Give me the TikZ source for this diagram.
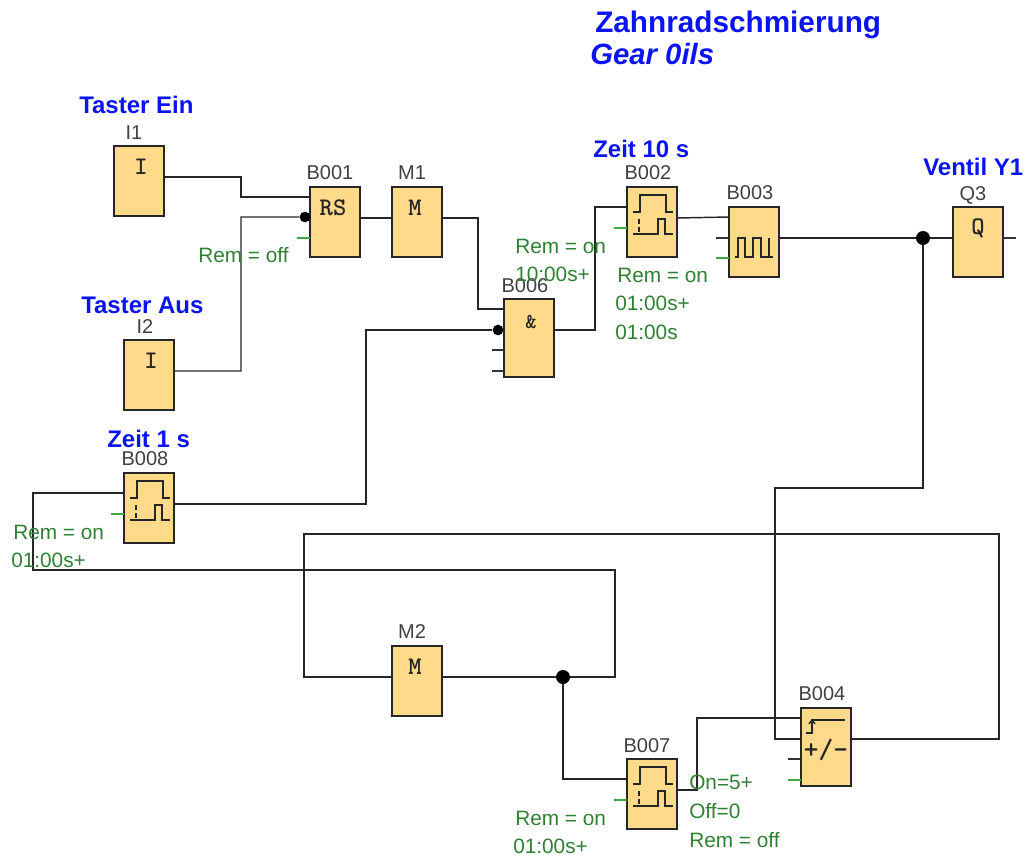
\documentclass[tikz,border=0pt]{standalone}
\usepackage{fontspec}
\setmainfont{Liberation Sans}
\definecolor{blockFill}{HTML}{FFDA8B}
\definecolor{remGreen}{HTML}{2F8032}
\definecolor{pinGreen}{HTML}{3FA648}
\definecolor{nameBlue}{HTML}{0A14F0}
\tikzset{
  block/.style={draw=black!85,fill=blockFill,line width=1.1pt,inner sep=0pt,outer sep=0pt,anchor=north west,minimum width=37.5pt},
  wire/.style={line width=1.1pt,black!85},
  pinstub/.style={line width=1pt,black!80},
  greenstub/.style={line width=1pt,pinGreen},
  icon/.style={line width=1.1pt,black!85},
  glyph/.style={font=\fontsize{19}{19}\ttfamily\bfseries,text=black!85,inner sep=0pt},
  blockname/.style={font=\fontsize{15}{15}\selectfont,text=black!75,anchor=base,inner sep=0pt},
  caption/.style={font=\fontsize{18}{18}\selectfont\bfseries,text=nameBlue,anchor=base west,inner sep=0pt},
  remtext/.style={font=\fontsize{15.6}{15.6}\selectfont,text=remGreen,anchor=base west,inner sep=0pt},
  bigdot/.style={circle,fill=black,inner sep=0pt,minimum size=10.5pt},
  smalldot/.style={circle,fill=black,inner sep=0pt,minimum size=8pt}
}
% block at its top left corner, with the pin rows as coordinates
\newcommand{\funcBlock}[4]{
  \node[block,minimum height=#4*0.75pt] (#1) at (#2,#3) {};
  \foreach \p in {10,20,31,41,51,72}
    \coordinate (#1-\p) at ([shift={(0,\p)}]#1.north west);
  \coordinate (#1-o) at ([shift={(0,31)}]#1.north east);
}
\newcommand{\timerIcon}[1]{
  \begin{scope}[shift={(#1.north west)}]
    \draw[icon] (6,25) -- (13,25) -- (13,8) -- (39,8) -- (39,25) -- (46,25);
    \draw[icon] (6,47) -- (31,47) -- (31,32) -- (38,32) -- (38,47) -- (46,47);
    \draw[icon,dash pattern=on 4pt off 2pt] (12,32) -- (12,47);
  \end{scope}
}

\begin{document}
\begin{tikzpicture}[x=0.75pt,y=-0.75pt]
  \useasboundingbox (0,0) rectangle (1026,858);

  \funcBlock{i1}{114}{146}{70}
  \funcBlock{i2}{124}{340}{70}
  \funcBlock{b001}{310}{187}{70}
  \funcBlock{m1}{392}{187}{70}
  \funcBlock{b006}{504}{299}{78}
  \funcBlock{b002}{627}{187}{70}
  \funcBlock{b003}{729}{207}{70}
  \funcBlock{q3}{953}{207}{70}
  \funcBlock{b008}{124}{473}{70}
  \funcBlock{m2}{392}{646}{70}
  \funcBlock{b007}{627}{759}{70}
  \funcBlock{b004}{801}{708}{78}

  \node[smalldot] (dotrs) at (305,217) {};
  \node[smalldot] (dotand) at (498,330) {};
  \node[bigdot] (dotq) at (923,238) {};
  \node[bigdot] (dotm) at (563,677) {};

  % wires
  \draw[wire] (i1-o) -| (241,197) -- (b001-10);
  \draw[wire] (i2-o) -| (241,217) -- (dotrs) -- (b001-31);
  \draw[wire] (b001-o) -- (m1-31);
  \draw[wire] (m1-o) -| (478,309) -- (b006-10);
  \draw[wire] (b008-o) -| (366,330) -- (dotand) -- (b006-31);
  \draw[wire] (b006-o) -| (595,207) -- (b002-20);
  \draw[wire] (b002-o) -- (b003-10);
  \draw[wire] (b003-o) -- (dotq) -- (q3-31);
  \draw[wire] (dotq) |- (775,488) |- (b004-31);
  \draw[wire] (b007-o) -| (697,718) -- (b004-10);
  \draw[wire] (b004-o) -| (999,534) -| (304,677) -- (m2-31);
  \draw[wire] (m2-o) -- (dotm) -| (615,570) -| (33,493) -- (b008-20);
  \draw[wire] (dotm) |- (b007-20);

  % open pins
  \draw[pinstub] (q3-o) -- ++(13,0);
  \draw[pinstub] (b006-51) -- ++(-12,0);
  \draw[pinstub] (b006-72) -- ++(-12,0);
  \draw[pinstub] (b003-31) -- ++(-13,0);
  \draw[pinstub] (b004-51) -- ++(-13,0);
  \draw[greenstub] (b001-51) -- ++(-13,0);
  \draw[greenstub] (b002-41) -- ++(-13,0);
  \draw[greenstub] (b003-51) -- ++(-13,0);
  \draw[greenstub] (b008-41) -- ++(-13,0);
  \draw[greenstub] (b007-41) -- ++(-13,0);
  \draw[greenstub] (b004-72) -- ++(-13,0);

  % block symbols
  \node[glyph] (gi1) at (141,167) {I};
  \node[glyph] (gi2) at (151,361) {I};
  \node[glyph] (grs) at (333,208) {RS};
  \node[glyph] (gm1) at (415,208) {M};
  \node[glyph] (gm2) at (415,667) {M};
  \node[glyph] (gq3) at (978,228) {Q};
  \node[glyph,font=\fontsize{16}{16}\ttfamily\bfseries] (gand) at (531,322) {\&};
  \node[glyph,font=\fontsize{21}{21}\selectfont\ttfamily\bfseries] (gpm) at (826,750) {+/-};
  \timerIcon{b002}
  \timerIcon{b007}
  \timerIcon{b008}
  \draw[icon] (735,257) -- (738,257) -- (738,238) -- (745,238) -- (745,257) -- (753,257) -- (753,238) -- (761,238) -- (761,257) -- (773,257);
  \draw[icon] (769,238) -- (769,257);
  \draw[icon] (806,733) -- (812,733) -- (812,720) -- (845,720);
  \draw[icon] (809,724) -- (812,720) -- (815,724);

  % block names
  \node[blockname] (ni1) at (134,139) {I1};
  \node[blockname] (ni2) at (145,333) {I2};
  \node[blockname] (nb001) at (330,179) {B001};
  \node[blockname] (nm1) at (412,179) {M1};
  \node[blockname] (nb006) at (525,292) {B006};
  \node[blockname] (nb002) at (648,179) {B002};
  \node[blockname] (nb003) at (750,199) {B003};
  \node[blockname] (nq3) at (973,200) {Q3};
  \node[blockname] (nb008) at (145,465) {B008};
  \node[blockname] (nm2) at (412,638) {M2};
  \node[blockname] (nb007) at (647,752) {B007};
  \node[blockname] (nb004) at (822,700) {B004};

  % blue captions
  \node[caption,font=\fontsize{22.3}{22.3}\selectfont\bfseries] (title) at (595,32) {Zahnradschmierung};
  \node[caption,font=\fontsize{22}{22}\selectfont\bfseries\itshape] (subtitle) at (590,64) {Gear 0ils};
  \node[caption] (capein) at (79,113) {Taster Ein};
  \node[caption] (capaus) at (81,313) {Taster Aus};
  \node[caption] (capzs) at (593,157) {Zeit 10 s};
  \node[caption] (capes) at (107,447) {Zeit 1 s};
  \node[caption] (capy) at (923,175) {Ventil Y1};

  % parameters
  \node[remtext] (remb001) at (198,262) {Rem = off};
  \node[remtext] (remb006a) at (515,253) {Rem = on};
  \node[remtext] (remb006b) at (515,281) {10:00s+};
  \node[remtext] (remb002a) at (617,282) {Rem = on};
  \node[remtext] (remb002b) at (615,310) {01:00s+};
  \node[remtext] (remb002c) at (615,339) {01:00s};
  \node[remtext] (remb008a) at (13,539) {Rem = on};
  \node[remtext] (remb008b) at (11,567) {01:00s+};
  \node[remtext] (remb007a) at (515,825) {Rem = on};
  \node[remtext] (remb007b) at (513,853) {01:00s+};
  \node[remtext] (remb004a) at (689,789) {On=5+};
  \node[remtext] (remb004b) at (689,818) {Off=0};
  \node[remtext] (remb004c) at (689,847) {Rem = off};
\end{tikzpicture}
\end{document}
